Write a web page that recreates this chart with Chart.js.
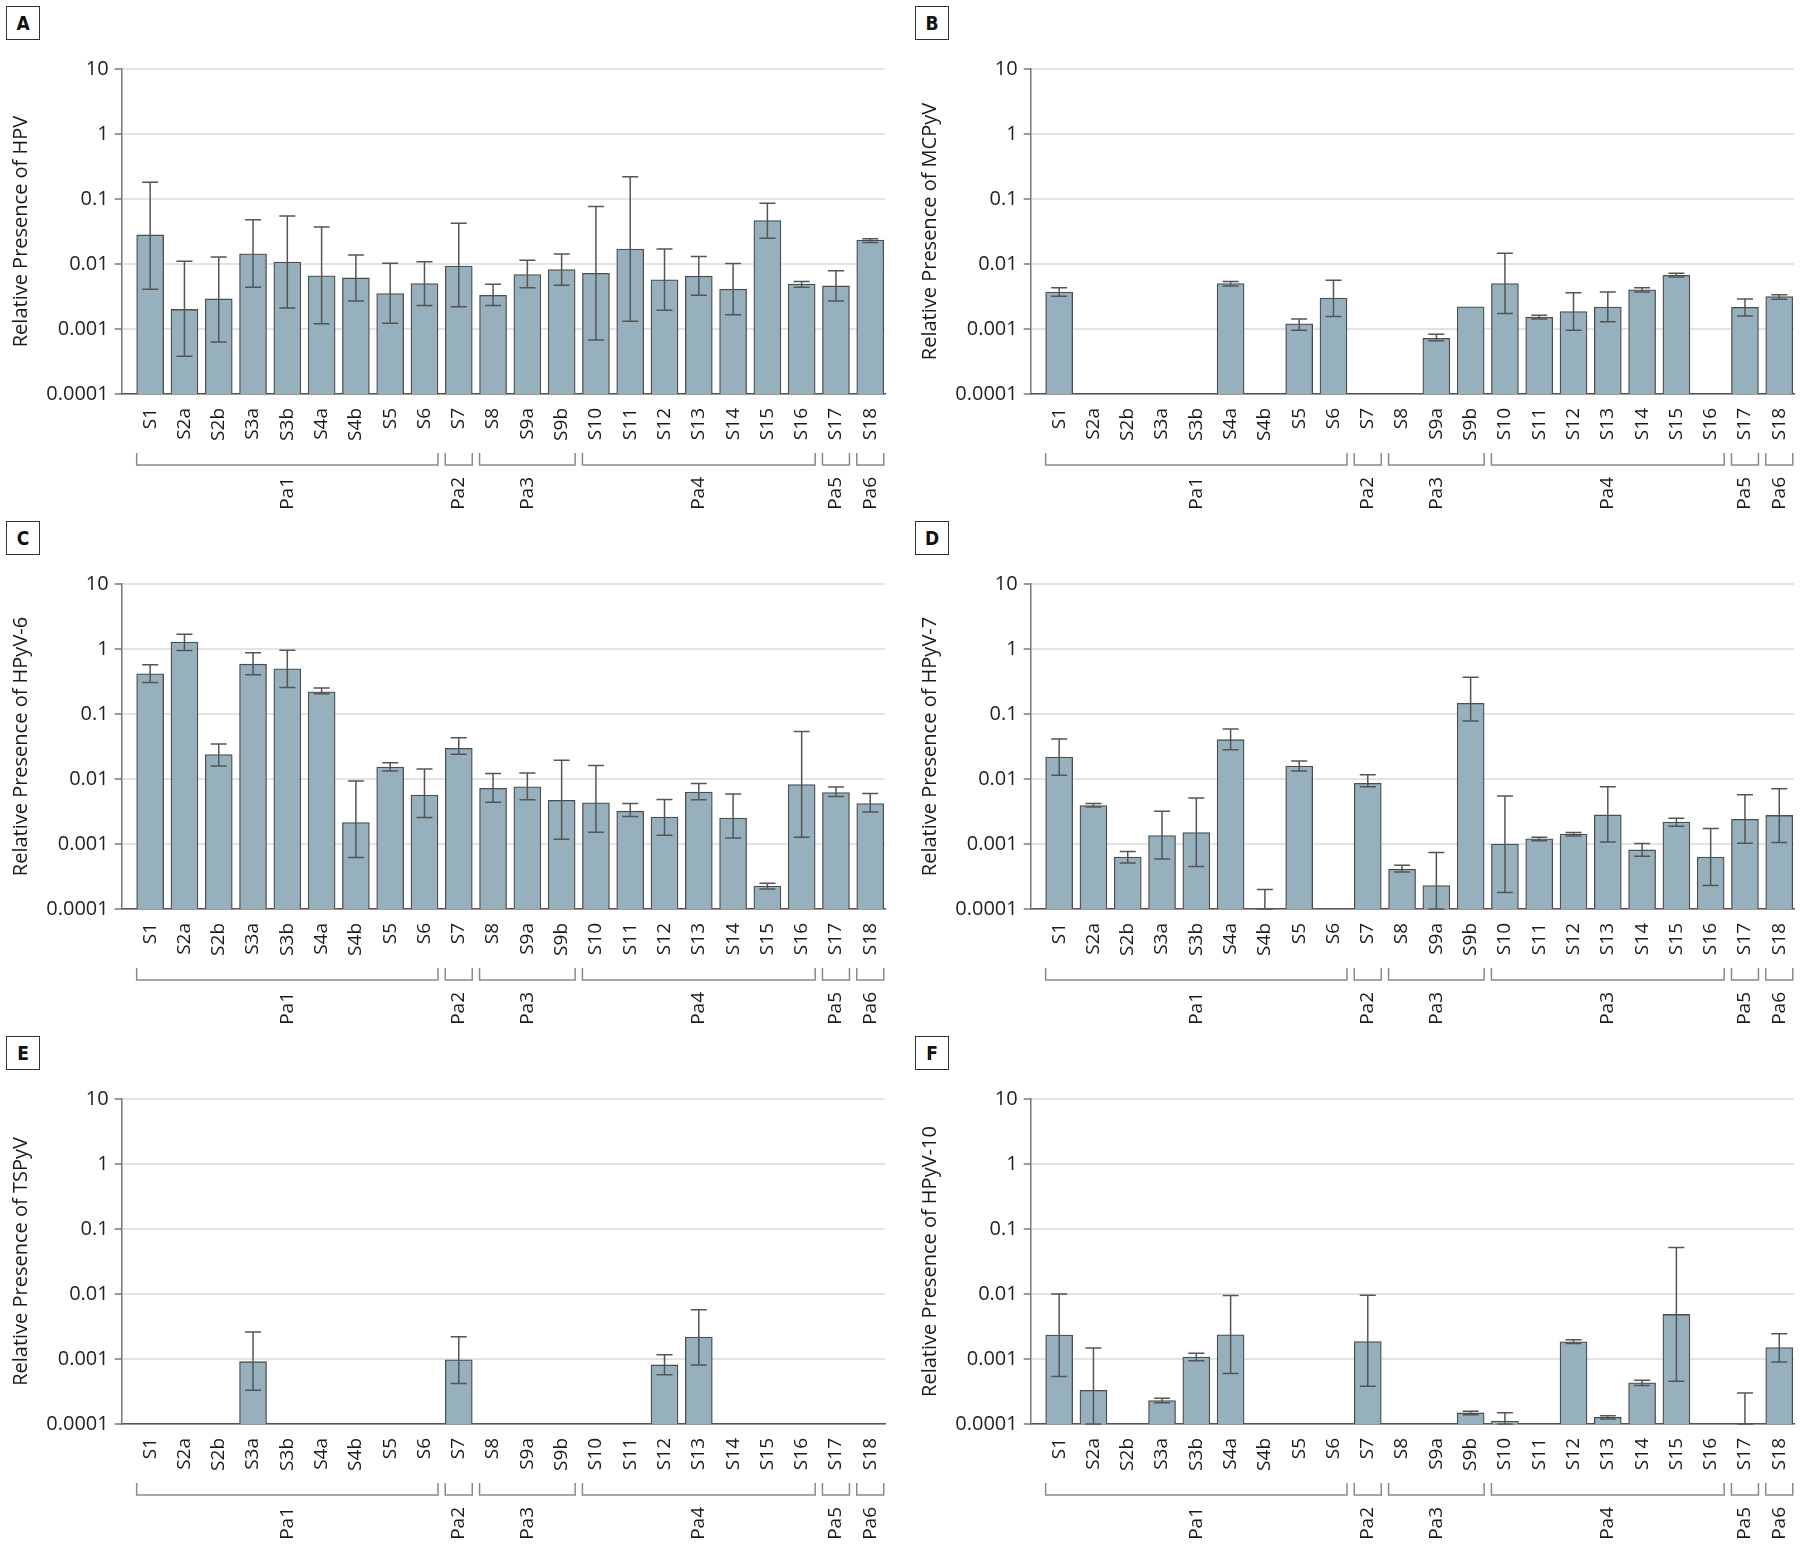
<!DOCTYPE html>
<html>
<head>
<meta charset="utf-8">
<script src="https://cdn.jsdelivr.net/npm/chart.js@4.4.0/dist/chart.umd.min.js"></script>
<style>
  html, body { margin: 0; padding: 0; background: #fff; }
  #wrap { position: relative; width: 1800px; height: 1545px; overflow: hidden; }
  .panel { position: absolute; width: 891px; height: 515px; }
  .tag { position: absolute; left: 6px; top: 6px; width: 32px; height: 32px; border: 1.5px solid #333;
         font-family: 'DejaVu Sans Condensed', 'DejaVu Sans', sans-serif; font-weight: bold; font-size: 19px;
         color: #111; text-align: center; line-height: 32px; background: #fff; z-index: 2; }
  canvas { position: absolute; left: 0; top: 0; }
</style>
</head>
<body>
<div id="wrap"></div>
<script>
// ---------- DATA ----------
const categories = ['S1','S2a','S2b','S3a','S3b','S4a','S4b','S5','S6','S7','S8','S9a','S9b','S10','S11','S12','S13','S14','S15','S16','S17','S18'];
const tickValues = [0.0001, 0.001, 0.01, 0.1, 1, 10];
const tickLabels = ['0.0001', '0.001', '0.01', '0.1', '1', '10'];

const groupStarts = [0, 9, 10, 13, 20, 21];
const groupEnds   = [8, 9, 12, 19, 20, 21];
const groupNames  = ['Pa1', 'Pa2', 'Pa3', 'Pa4', 'Pa5', 'Pa6'];
const groupNamesD = ['Pa1', 'Pa2', 'Pa3', 'Pa3', 'Pa5', 'Pa6'];

// Panel A - HPV
const hpvValues = [0.028,0.002,0.0029,0.0144,0.0107,0.0066,0.0061,0.0035,0.005,0.0093,0.0033,0.0069,0.0082,0.0072,0.017,0.0057,0.0065,0.0041,0.0465,0.0049,0.0046,0.0234];
const hpvHigh   = [0.181,0.011,0.0128,0.048,0.055,0.037,0.0137,0.0103,0.0108,0.0423,0.0049,0.0114,0.0142,0.077,0.219,0.017,0.0131,0.0102,0.086,0.0054,0.0079,0.0245];
const hpvLow    = [0.0041,0.00038,0.00063,0.0044,0.0021,0.0012,0.0027,0.00123,0.0023,0.0022,0.0023,0.0043,0.0047,0.00068,0.00132,0.00195,0.0033,0.00165,0.025,0.0044,0.0027,0.0215];

// Panel B - MCPyV
const mcpValues = [0.0037,null,null,null,null,0.005,null,0.0012,0.003,null,null,0.00072,0.0022,0.005,0.00152,0.00186,0.00217,0.004,0.0067,null,0.00215,0.00316];
const mcpHigh   = [0.0043,null,null,null,null,0.0054,null,0.00143,0.0056,null,null,0.00083,null,0.0146,0.00163,0.0036,0.0037,0.0043,0.0072,null,0.0029,0.00335];
const mcpLow    = [0.0032,null,null,null,null,0.0046,null,0.00096,0.00156,null,null,0.00066,null,0.00173,0.00142,0.00096,0.00129,0.00372,0.0063,null,0.00158,0.00288];

// Panel C - HPyV-6
const h6Values = [0.415,1.28,0.0237,0.584,0.495,0.219,0.00214,0.0153,0.00565,0.0296,0.0072,0.0076,0.0047,0.0043,0.0032,0.0026,0.0063,0.0025,0.000226,0.0082,0.0062,0.0042];
const h6High   = [0.57,1.69,0.0346,0.874,0.96,0.252,0.0093,0.0178,0.0142,0.0433,0.0122,0.0124,0.0194,0.0162,0.0042,0.00485,0.0085,0.0059,0.000249,0.054,0.0075,0.006];
const h6Low    = [0.305,0.95,0.0158,0.4,0.255,0.205,0.00062,0.0133,0.00256,0.024,0.0044,0.0048,0.00118,0.00151,0.00265,0.00136,0.0048,0.00124,0.000203,0.00127,0.0054,0.0031];

// Panel D - HPyV-7
const h7Values = [0.0218,0.0039,0.00063,0.00135,0.0015,0.0403,0.0001,0.0158,null,0.0086,0.00041,0.00023,0.146,0.001,0.0012,0.00142,0.0028,0.00081,0.00217,0.00063,0.0024,0.00275];
const h7High   = [0.0413,0.0042,0.00077,0.0032,0.0051,0.059,0.0002,0.019,null,0.0116,0.00047,0.00074,0.368,0.0055,0.00127,0.0015,0.0076,0.00102,0.0025,0.00173,0.0057,0.0071];
const h7Low    = [0.0114,0.0037,0.00051,0.00059,0.00045,0.0283,0.0001,0.0133,null,0.0076,0.00037,0.0001,0.078,0.00018,0.00112,0.00133,0.00107,0.00065,0.00188,0.00023,0.00103,0.00105];

// Panel E - TSPyV
const tsValues = [null,null,null,0.00091,null,null,null,null,null,0.00097,null,null,null,null,null,0.00081,0.00217,null,null,null,null,null];
const tsHigh   = [null,null,null,0.0026,null,null,null,null,null,0.0022,null,null,null,null,null,0.00116,0.0057,null,null,null,null,null];
const tsLow    = [null,null,null,0.00033,null,null,null,null,null,0.00042,null,null,null,null,null,0.00057,0.00081,null,null,null,null,null];

// Panel F - HPyV-10
const h10Values = [0.00233,0.00033,null,0.00023,0.00107,0.00235,null,null,null,0.00186,null,null,0.000148,0.000111,null,0.00184,0.000127,0.00043,0.00485,null,0.0001,0.0015];
const h10High   = [0.01,0.00147,null,0.00025,0.00123,0.0095,null,null,null,0.0096,null,null,0.000157,0.000149,null,0.00197,0.000134,0.00047,0.052,null,0.0003,0.00244];
const h10Low    = [0.00054,0.0001,null,0.000213,0.00094,0.0006,null,null,null,0.00038,null,null,0.000139,0.0001,null,0.00173,0.000119,0.00039,0.000455,null,0.0001,0.0009];

const panels = [
  { tag: 'A', title: 'Relative Presence of HPV',     values: hpvValues, high: hpvHigh, low: hpvLow, groups: groupNames,  left: 0,   top: 0 },
  { tag: 'B', title: 'Relative Presence of MCPyV',   values: mcpValues, high: mcpHigh, low: mcpLow, groups: groupNames,  left: 909, top: 0 },
  { tag: 'C', title: 'Relative Presence of HPyV-6',  values: h6Values,  high: h6High,  low: h6Low,  groups: groupNames,  left: 0,   top: 515 },
  { tag: 'D', title: 'Relative Presence of HPyV-7',  values: h7Values,  high: h7High,  low: h7Low,  groups: groupNamesD, left: 909, top: 515 },
  { tag: 'E', title: 'Relative Presence of TSPyV',   values: tsValues,  high: tsHigh,  low: tsLow,  groups: groupNames,  left: 0,   top: 1030 },
  { tag: 'F', title: 'Relative Presence of HPyV-10', values: h10Values, high: h10High, low: h10Low, groups: groupNames,  left: 909, top: 1030 }
];

// ---------- STYLE ----------
const FONT = "'Open Sans', 'Noto Sans', 'DejaVu Sans', sans-serif";
const BAR_FILL = '#96b1bd';
const BAR_EDGE = '#4d4d4d';
const HALF_BAR = 13.5;

const errorBarPlugin = {
  id: 'errbars',
  afterDatasetsDraw(chart, args, opts) {
    const xs = chart.scales.x, ys = chart.scales.y, ctx = chart.ctx;
    ctx.save();
    ctx.strokeStyle = '#555';
    ctx.lineWidth = 1.5;
    opts.high.forEach((hi, i) => {
      const lo = opts.low[i];
      if (hi == null || lo == null) return;
      const x = xs.getPixelForValue(i);
      const yh = ys.getPixelForValue(hi), yl = ys.getPixelForValue(lo);
      ctx.beginPath();
      ctx.moveTo(x, yh); ctx.lineTo(x, yl);
      ctx.moveTo(x - 8, yh); ctx.lineTo(x + 8, yh);
      ctx.moveTo(x - 8, yl); ctx.lineTo(x + 8, yl);
      ctx.stroke();
    });
    ctx.restore();
  }
};

const groupPlugin = {
  id: 'groups',
  afterDraw(chart, args, opts) {
    const xs = chart.scales.x, ctx = chart.ctx, b = chart.chartArea.bottom;
    ctx.save();
    ctx.strokeStyle = '#8a8a8a';
    ctx.lineWidth = 1.5;
    ctx.fillStyle = '#1a1a1a';
    ctx.font = "19px " + FONT;
    groupStarts.forEach((s, g) => {
      const e = groupEnds[g];
      const x0 = xs.getPixelForValue(s) - HALF_BAR, x1 = xs.getPixelForValue(e) + HALF_BAR;
      ctx.beginPath();
      ctx.moveTo(x0, b + 59); ctx.lineTo(x0, b + 71); ctx.lineTo(x1, b + 71); ctx.lineTo(x1, b + 59);
      ctx.stroke();
      const xc = (x0 + x1) / 2;
      ctx.save();
      ctx.translate(xc, b + 83);
      ctx.rotate(-Math.PI / 2);
      ctx.textAlign = 'right';
      ctx.textBaseline = 'middle';
      ctx.fillText(opts.names[g], 0, 0);
      ctx.restore();
    });
    ctx.restore();
  }
};

const wrap = document.getElementById('wrap');
panels.forEach(p => {
  const div = document.createElement('div');
  div.className = 'panel';
  div.style.left = p.left + 'px';
  div.style.top = p.top + 'px';
  const tag = document.createElement('div');
  tag.className = 'tag';
  tag.textContent = p.tag;
  div.appendChild(tag);
  const cv = document.createElement('canvas');
  cv.width = 891; cv.height = 515;
  cv.style.width = '891px'; cv.style.height = '515px';
  div.appendChild(cv);
  wrap.appendChild(div);

  new Chart(cv, {
    type: 'bar',
    data: {
      datasets: [{
        data: categories.map((c, i) => ({ x: i, y: p.values[i] })),
        backgroundColor: BAR_FILL,
        borderColor: BAR_EDGE,
        borderWidth: 1.3,
        barThickness: 27
      }]
    },
    options: {
      responsive: false,
      animation: false,
      events: [],
      layout: { padding: { left: 0, top: 69, right: 6, bottom: 0 } },
      plugins: {
        legend: { display: false },
        tooltip: { enabled: false },
        errbars: { high: p.high, low: p.low },
        groups: { names: p.groups }
      },
      scales: {
        x: {
          type: 'linear',
          min: -0.83, max: 21.43,
          offset: false,
          grid: { display: false, drawTicks: false },
          border: { display: true, color: '#555', width: 1.5 },
          afterBuildTicks: s => { s.ticks = categories.map((c, i) => ({ value: i })); },
          afterFit: s => { s.height = 121; s.paddingRight = 0; s.paddingLeft = 0; },
          ticks: {
            autoSkip: false, minRotation: 90, maxRotation: 90, padding: 14,
            color: '#1a1a1a', font: { family: FONT, size: 19 },
            callback: v => categories[v]
          }
        },
        y: {
          type: 'logarithmic',
          position: 'left',
          min: 0.0001, max: 10,
          afterBuildTicks: s => { s.ticks = tickValues.map(v => ({ value: v })); },
          afterFit: s => { s.width = 121.7; },
          grid: { color: '#e3e3e3', lineWidth: 2, tickLength: 7, tickColor: '#777', tickWidth: 1.5 },
          border: { color: '#777', width: 1.5 },
          ticks: {
            autoSkip: false, padding: 6, color: '#222', font: { family: FONT, size: 20 },
            callback: v => tickLabels[tickValues.indexOf(v)] ?? ''
          },
          title: { display: true, text: p.title, color: '#1a1a1a', font: { family: FONT, size: 20 }, padding: { top: 9, bottom: 0 } }
        }
      }
    },
    plugins: [errorBarPlugin, groupPlugin]
  });
});
</script>
</body>
</html>
